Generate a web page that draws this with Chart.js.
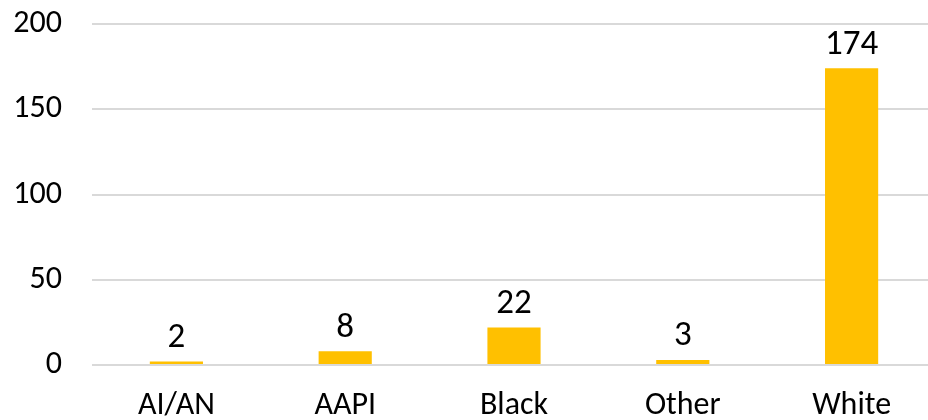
<!DOCTYPE html>
<html>
<head>
<meta charset="utf-8">
<script src="https://cdn.jsdelivr.net/npm/chart.js@4"></script>
<style>
  html, body { margin: 0; padding: 0; background: #fff; overflow: hidden; }
  #wrap { width: 928px; height: 420px; overflow: hidden; }
</style>
</head>
<body>
<div id="wrap"><canvas id="myChart" width="936" height="420"></canvas></div>
<script>
const categories = ['AI/AN', 'AAPI', 'Black', 'Other', 'White'];
const counts = [2, 8, 22, 3, 174];
const yTicks = [0, 50, 100, 150, 200];

const fontFamily = "Carlito, Lato, 'Open Sans', sans-serif";

// draws the value above each bar
const valueLabels = {
  id: 'valueLabels',
  afterDatasetsDraw(chart) {
    const ctx = chart.ctx;
    const meta = chart.getDatasetMeta(0);
    ctx.save();
    ctx.fillStyle = '#000';
    ctx.font = '35px ' + fontFamily;
    ctx.textAlign = 'center';
    ctx.textBaseline = 'bottom';
    meta.data.forEach((bar, i) => {
      ctx.fillText(chart.data.datasets[0].data[i], bar.x, bar.y - 6);
    });
    ctx.restore();
  }
};

const ctx = document.getElementById('myChart').getContext('2d');
new Chart(ctx, {
  type: 'bar',
  data: {
    labels: categories,
    datasets: [{
      data: counts,
      backgroundColor: '#FFC000',
      barPercentage: 0.315,
      categoryPercentage: 1
    }]
  },
  options: {
    responsive: false,
    animation: false,
    layout: { padding: { top: 24 } },
    plugins: {
      legend: { display: false },
      tooltip: { enabled: false }
    },
    scales: {
      x: {
        grid: { display: false },
        border: { display: false },
        ticks: { color: '#000', font: { size: 32, family: fontFamily }, padding: 14, maxRotation: 0 },
        afterFit(scale) { scale.height = 55; }
      },
      y: {
        min: 0,
        max: 200,
        afterBuildTicks(scale) { scale.ticks = yTicks.map(v => ({ value: v })); },
        grid: { color: '#D9D9D9', lineWidth: 2, drawTicks: false },
        border: { display: false },
        ticks: { color: '#000', font: { size: 32, family: fontFamily }, padding: 30 },
        afterFit(scale) {
          scale.width = 92;
          scale.paddingTop = 0;
          scale.paddingBottom = 0;
        }
      }
    }
  },
  plugins: [valueLabels]
});
</script>
</body>
</html>
